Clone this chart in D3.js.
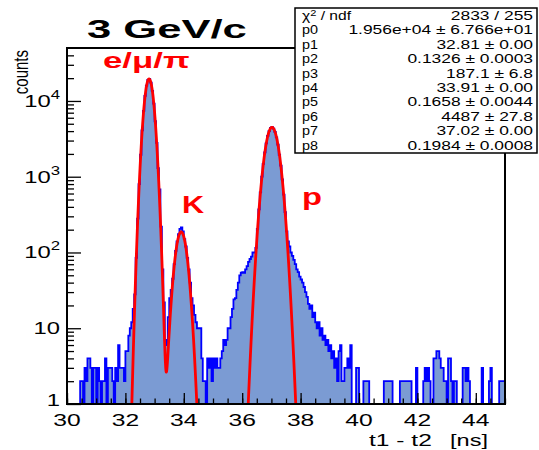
<!DOCTYPE html>
<html>
<head>
<meta charset="utf-8">
<script src="https://cdn.jsdelivr.net/npm/d3@7"></script>
<style>
body{margin:0;background:#fff}
text{font-family:"Liberation Sans",Arial,Helvetica,sans-serif}
</style>
</head>
<body>
<div id="chart"></div>
<script>
// histogram t1-t2, 0.05 ns bins starting at 30 ns
var binLow = 30
var binWidth = 0.05
var counts = [
	0,1,0,0,1,0,1,0,1,2,
	2,1,3,2,4,4,3,1,3,3,
	1,3,2,1,2,2,4,1,3,3,
	3,2,1,3,2,6,3,3,3,2,
	5,5,8,10,12,18,28,85,280,800,
	1950,4100,7400,11700,15900,18900,19500,17500,13600,9200,
	5400,2800,1300,680,220,60,22,7,6,14,
	25,32,45,70,105,140,175,205,215,190,
	150,120,85,60,40,25,20,15,12,10,
	10,10,4,2,2,1,4,3,4,2,
	4,3,4,3,3,4,5,7,6,7,
	10,10,14,18,24,25,32,40,50,54,
	55,54,60,66,75,82,88,100,100,115,
	205,370,620,1000,1480,2100,2750,3450,4000,4400,
	4550,4300,3900,3300,2650,1950,1400,920,580,340,
	190,140,120,100,90,80,70,60,55,48,
	44,40,35,30,26,21,18,20,14,16,
	12,10,12,8,10,7,8,6,7,5,
	6,4,5,3,4,2,5,6,2,2,
	3,3,4,3,6,1,0,1,3,3,
	1,0,1,2,2,2,2,1,0,1,
	0,0,1,0,0,1,0,2,2,2,
	2,2,2,1,0,1,0,1,2,2,
	2,2,2,2,2,2,1,0,1,3,
	1,0,1,1,2,3,2,3,2,1,
	1,4,4,5,5,4,3,3,2,2,
	1,4,4,2,1,2,2,1,1,0,
	1,3,3,2,3,2,1,0,1,0,
	1,1,0,1,3,1,0,1,0,2,
	3,1,0,1,0,1,2,2,2,2
]

// fit parameters as printed in the stats box (p0..p8)
var fitAmp = [19560, 187.1, 4487]
var fitMean = [32.81, 33.91, 37.02]
var fitSigma = [0.1326, 0.1658, 0.1984]

var xDomain = [30, 45]
var yDomain = [1, 5e4]
var xTicks = [30,32,34,36,38,40,42,44]
var yTicks = [1,10,100,1000,10000]
var yTickBase = ["1","10","10","10","10"]
var yTickExp = ["","","2","3","4"]

var statNames = ["p0","p1","p2","p3","p4","p5","p6","p7","p8"]
var statValues = ["2833 / 255","1.956e+04 \u00b1 6.766e+01","32.81 \u00b1 0.00","0.1326 \u00b1 0.0003",
	"187.1 \u00b1 6.8","33.91 \u00b1 0.00","0.1658 \u00b1 0.0044","4487 \u00b1 27.8",
	"37.02 \u00b1 0.00","0.1984 \u00b1 0.0008"]

var peakLabels = ["e/\u03bc/\u03c0","K","p"]

var W = 539, H = 450
var L = 67, R = 505, T = 48, B = 404

var svg = d3.select("#chart").append("svg").attr("width",W).attr("height",H)

var x = d3.scaleLinear().domain(xDomain).range([L,R])
var y = d3.scaleLog().domain(yDomain).range([B,T])

svg.append("clipPath").attr("id","plotclip")
	.append("rect").attr("x",L).attr("y",T).attr("width",R-L).attr("height",B-T)

var plot = svg.append("g").attr("clip-path","url(#plotclip)")

// histogram as a step outline
var pts = [[x(binLow),B]]
counts.forEach(function(c,i){
	var yy = c > 1 ? y(c) : B
	pts.push([x(binLow+i*binWidth),yy])
	pts.push([x(binLow+(i+1)*binWidth),yy])
})
pts.push([x(binLow+counts.length*binWidth),B])

plot.append("path")
	.attr("d",d3.line()(pts)+"Z")
	.attr("fill","#7b9bd3")
	.attr("stroke","none")
plot.append("path")
	.attr("d",d3.line()(pts))
	.attr("fill","none")
	.attr("stroke","#0000ff")
	.attr("stroke-width",1.8)

// fitted function: sum of three gaussians
function fitValue(t){
	var s = 0
	for(var k=0;k<fitAmp.length;k++){
		var z = (t-fitMean[k])/fitSigma[k]
		s += fitAmp[k]*Math.exp(-0.5*z*z)
	}
	return Math.max(s,1e-2)
}
var fitPts = d3.range(xDomain[0],xDomain[1]+0.0001,0.01).map(function(t){
	return [x(t),y(fitValue(t))]
})
plot.append("path")
	.attr("d",d3.line()(fitPts))
	.attr("fill","none")
	.attr("stroke","#ff0000")
	.attr("stroke-width",2.8)
	.attr("stroke-linejoin","round")

// axes with inward ticks
var minorX = d3.range(30,45.001,0.5)
svg.append("g").attr("transform","translate(0,"+B+")")
	.call(d3.axisBottom(x).tickValues(minorX).tickSizeInner(-5.5).tickSizeOuter(0).tickFormat(""))
svg.append("g").attr("transform","translate(0,"+B+")")
	.call(d3.axisBottom(x).tickValues(xTicks).tickSizeInner(-11).tickSizeOuter(0).tickFormat(""))

var minorY = []
yTicks.forEach(function(d){
	for(var m=2;m<=9;m++){ if(d*m < yDomain[1]) minorY.push(d*m) }
})
svg.append("g").attr("transform","translate("+L+",0)")
	.call(d3.axisLeft(y).tickValues(minorY).tickSizeInner(-7).tickSizeOuter(0).tickFormat(""))
svg.append("g").attr("transform","translate("+L+",0)")
	.call(d3.axisLeft(y).tickValues(yTicks).tickSizeInner(-14).tickSizeOuter(0).tickFormat(""))

svg.selectAll(".tick line").attr("stroke","#000").attr("stroke-width",1.3)
svg.selectAll(".domain").remove()

svg.append("rect")
	.attr("x",L).attr("y",T).attr("width",R-L).attr("height",B-T)
	.attr("fill","none").attr("stroke","#000").attr("stroke-width",2)

// text helper: horizontally stretched text like the reference
function stretched(x0,y0,sx,anchor){
	var g = svg.append("g").attr("transform","translate("+x0+","+y0+") scale("+sx+",1)")
	return g.append("text").attr("text-anchor",anchor)
}
function fitWidth(t,x0,y0,w){
	var nat = t.node().getBBox().width
	t.node().parentNode.setAttribute("transform","translate("+x0+","+y0+") scale("+(w/nat)+",1)")
}

xTicks.forEach(function(d){
	stretched(x(d),426,1.45,"middle")
		.attr("font-size",17).text(d)
})

yTicks.forEach(function(d,i){
	var by = i == 0 ? y(d)+2 : y(d)+6
	var t = stretched(L-7,by,1.4,"end").attr("font-size",17)
	t.append("tspan").text(yTickBase[i])
	if(yTickExp[i]) t.append("tspan").attr("font-size",12).attr("dy",-8).text(yTickExp[i])
})

svg.append("text")
	.attr("transform","translate(28,50) scale(1.35,1) rotate(-90)")
	.attr("text-anchor","end")
	.attr("font-size",15)
	.text("counts")

var t1 = stretched(0,0,1,"start").attr("font-size",16).text("t1 - t2")
fitWidth(t1,369,446,63)
var t2 = stretched(0,0,1,"start").attr("font-size",16).text("[ns]")
fitWidth(t2,450,446,38)

var title = stretched(0,0,1,"start").attr("font-size",25).attr("font-weight","bold").text("3 GeV/c")
fitWidth(title,87,38,160)

var pl0 = stretched(0,0,1,"start").attr("font-size",22).attr("font-weight","bold").attr("fill","#ff0000").text(peakLabels[0])
fitWidth(pl0,103,68,87)
var pl1 = stretched(0,0,1,"start").attr("font-size",24).attr("font-weight","bold").attr("fill","#ff0000").text(peakLabels[1])
fitWidth(pl1,182,213,23)
var pl2 = stretched(0,0,1,"start").attr("font-size",23).attr("font-weight","bold").attr("fill","#ff0000").text(peakLabels[2])
fitWidth(pl2,302,205,20)

// stats box
svg.append("rect")
	.attr("x",295).attr("y",8).attr("width",242).attr("height",145)
	.attr("fill","#fff").attr("stroke","#000").attr("stroke-width",1.5)

var chi = stretched(302,20,1.3,"start").attr("font-size",12)
chi.append("tspan").text("\u03c7")
chi.append("tspan").attr("font-size",8.5).attr("dy",-4.5).text("2")
chi.append("tspan").attr("dy",4.5).text(" / ndf")

statNames.forEach(function(n,i){
	stretched(302,20+(i+1)*14.4,1.2,"start").attr("font-size",12).text(n)
})
statValues.forEach(function(v,i){
	stretched(533,20+i*14.4,1.45,"end").attr("font-size",12).text(v)
})
</script>
</body>
</html>
